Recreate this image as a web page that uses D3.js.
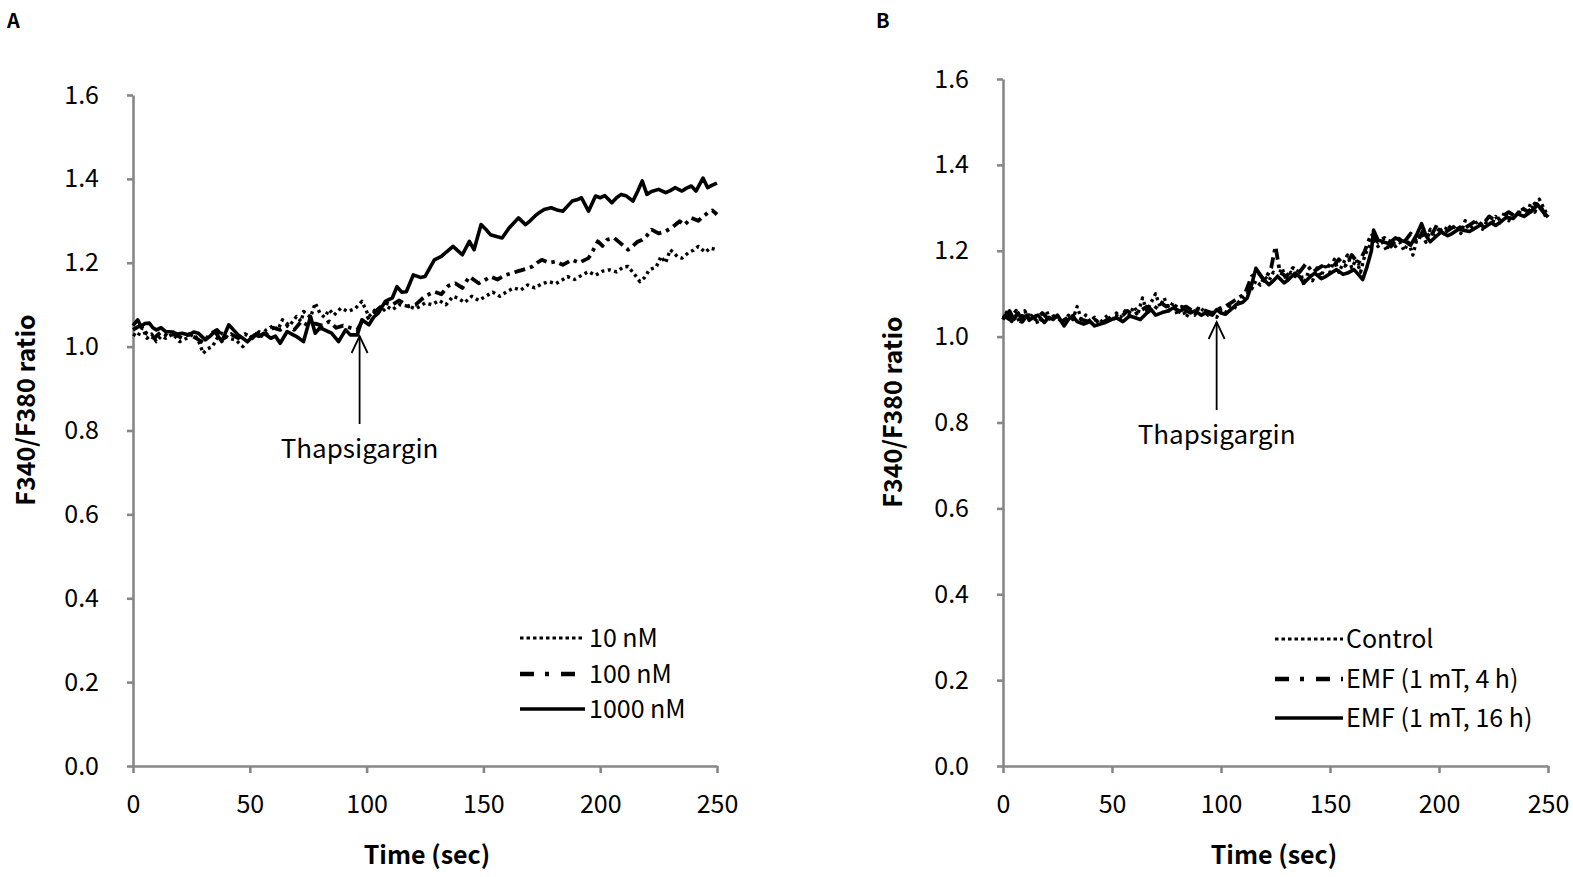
<!DOCTYPE html>
<html><head><meta charset="utf-8">
<script src="https://cdn.jsdelivr.net/npm/d3@7"></script>
<style>
body{margin:0;background:#fff;}
svg text{font-family:"Noto Sans CJK KR","Noto Sans",sans-serif;fill:#000;}
</style></head>
<body><svg id="c" width="1573" height="877"></svg>
<script>
const yTicks=[0,0.2,0.4,0.6,0.8,1.0,1.2,1.4,1.6];
const xTicks=[0,50,100,150,200,250];
const legendA=["10 nM","100 nM","1000 nM"];
const legendB=["Control","EMF (1 mT, 4 h)","EMF (1 mT, 16 h)"];

const a10=[[0,1.03],[2,1.024],[4,1.045],[6,1.02],[8,1.03],[10,1.012],[12,1.025],[14,1.02],[17,1.03],[20,1.012],[23,1.02],[26,1.03],[28,1.015],[30,0.984],[32,0.995],[34,1.0],[36,1.02],[38,1.032],[41,1.02],[44,1.016],[47,1.0],[50,1.02],[52,1.032],[55,1.025],[57,1.04],[60,1.05],[62,1.04],[64,1.064],[67,1.05],[70,1.072],[72,1.06],[73,1.084],[76,1.07],[78,1.104],[80,1.08],[82,1.07],[84,1.088],[86,1.075],[89,1.092],[92,1.084],[95,1.09],[98,1.108],[101,1.072],[104,1.09],[106,1.08],[109,1.095],[111,1.088],[114,1.1],[118,1.096],[121,1.09],[125,1.104],[128,1.1],[131,1.11],[134,1.1],[137,1.12],[139,1.116],[142,1.105],[145,1.12],[148,1.11],[151,1.12],[154,1.13],[157,1.12],[160,1.131],[163,1.14],[166,1.135],[169,1.147],[172,1.14],[175,1.15],[178,1.155],[181,1.15],[184,1.16],[186,1.167],[189,1.16],[192,1.17],[195,1.179],[198,1.17],[201,1.18],[204,1.183],[207,1.178],[210,1.19],[212,1.191],[215,1.17],[217,1.155],[219,1.165],[221,1.183],[224,1.19],[226,1.215],[228,1.2],[230,1.231],[233,1.215],[235,1.211],[238,1.225],[240,1.23],[242,1.239],[245,1.225],[247,1.235],[250,1.231]];
const a100=[[0,1.04],[3,1.05],[6,1.03],[9,1.02],[12,1.035],[15,1.025],[18,1.03],[21,1.02],[24,1.03],[27,1.02],[30,1.01],[33,1.03],[36,1.04],[39,1.02],[42,1.03],[45,1.02],[48,1.03],[51,1.02],[54,1.035],[57,1.03],[60,1.045],[63,1.04],[66,1.05],[69,1.04],[72,1.06],[75,1.05],[78,1.055],[81,1.05],[84,1.06],[87,1.045],[90,1.05],[93,1.045],[96,1.04],[98,1.06],[101,1.07],[104,1.085],[108,1.104],[111,1.1],[114,1.11],[118,1.096],[121,1.1],[125,1.12],[129,1.131],[132,1.125],[135,1.145],[138,1.151],[141,1.14],[144,1.167],[148,1.151],[151,1.16],[153,1.167],[156,1.16],[159,1.17],[162,1.175],[165,1.18],[168,1.185],[171,1.191],[173,1.2],[175,1.207],[178,1.2],[181,1.203],[184,1.195],[188,1.207],[191,1.2],[195,1.211],[197,1.23],[199,1.251],[201,1.24],[203,1.255],[206,1.259],[209,1.245],[212,1.231],[214,1.24],[216,1.25],[218,1.255],[220,1.265],[222,1.279],[225,1.27],[228,1.275],[231,1.285],[234,1.299],[236,1.29],[239,1.307],[242,1.3],[244,1.31],[246,1.319],[248,1.325],[250,1.315]];
const a1000=[[0,1.05],[2,1.064],[3.5,1.048],[5,1.055],[7,1.056],[8.5,1.045],[10,1.04],[12,1.045],[14,1.036],[17,1.035],[19,1.03],[21,1.032],[24,1.028],[26,1.035],[28,1.032],[31,1.016],[33,1.025],[35,1.036],[38,1.012],[41,1.052],[43,1.04],[45,1.028],[47,1.02],[49,1.012],[52,1.028],[54,1.025],[56,1.032],[59,1.02],[61,1.025],[63,1.008],[66,1.036],[68,1.03],[70,1.024],[73,1.012],[76,1.072],[78,1.032],[80,1.045],[82,1.04],[85,1.032],[88,1.012],[91,1.04],[93,1.028],[96,1.028],[98,1.064],[101,1.052],[103,1.07],[105,1.08],[108,1.108],[111,1.116],[113,1.143],[115,1.13],[117,1.131],[120,1.171],[123,1.165],[125,1.167],[129,1.207],[132,1.215],[134,1.225],[137,1.239],[141,1.219],[144,1.251],[146,1.231],[149,1.291],[151,1.28],[153,1.267],[156,1.262],[158,1.259],[161,1.283],[163,1.295],[165,1.307],[168,1.291],[170,1.3],[172,1.311],[174,1.32],[176,1.327],[179,1.331],[182,1.325],[184,1.323],[186,1.335],[188,1.347],[190,1.35],[192,1.355],[195,1.323],[198,1.359],[200,1.355],[202,1.36],[205,1.343],[207,1.355],[209,1.363],[211,1.36],[214,1.347],[216,1.37],[218,1.395],[220,1.363],[222,1.37],[225,1.375],[228,1.367],[230,1.372],[232,1.379],[235,1.371],[237,1.378],[239,1.383],[241,1.371],[244,1.402],[246,1.379],[248,1.385],[250,1.39]];

const bCtrl=[[0,1.04],[2,1.06],[4,1.035],[6,1.05],[8,1.03],[10,1.06],[12,1.04],[14,1.055],[16,1.03],[18,1.045],[20,1.06],[22,1.035],[24,1.05],[26,1.04],[28,1.03],[30,1.05],[32,1.04],[34,1.07],[36,1.04],[38,1.05],[40,1.035],[42,1.045],[44,1.03],[46,1.04],[48,1.05],[50,1.035],[52,1.055],[54,1.045],[56,1.06],[58,1.05],[60,1.07],[62,1.055],[64,1.09],[66,1.06],[68,1.08],[70,1.1],[72,1.07],[74,1.09],[76,1.06],[78,1.08],[80,1.05],[82,1.07],[84,1.045],[86,1.06],[88,1.05],[90,1.07],[92,1.06],[94,1.05],[96,1.055],[98,1.045],[100,1.06],[102,1.055],[104,1.07],[106,1.065],[108,1.08],[110,1.09],[112,1.1],[114,1.11],[116,1.13],[118,1.12],[120,1.14],[122,1.13],[124,1.15],[126,1.14],[128,1.16],[130,1.13],[132,1.15],[134,1.14],[136,1.16],[138,1.12],[140,1.15],[142,1.13],[144,1.16],[146,1.14],[148,1.17],[150,1.15],[152,1.18],[154,1.15],[156,1.17],[158,1.19],[160,1.16],[162,1.18],[164,1.15],[166,1.19],[168,1.21],[170,1.23],[172,1.21],[174,1.22],[176,1.2],[178,1.23],[180,1.21],[182,1.22],[184,1.2],[186,1.22],[188,1.19],[190,1.23],[192,1.24],[194,1.22],[196,1.25],[198,1.23],[200,1.25],[202,1.24],[204,1.26],[206,1.25],[208,1.26],[210,1.24],[212,1.27],[214,1.25],[216,1.26],[218,1.27],[220,1.25],[222,1.27],[224,1.26],[226,1.28],[228,1.26],[230,1.29],[232,1.27],[234,1.29],[236,1.28],[238,1.3],[240,1.28],[242,1.31],[244,1.29],[246,1.32],[248,1.3],[250,1.28]];
const b4h=[[0,1.05],[3,1.04],[6,1.06],[9,1.045],[12,1.05],[15,1.04],[18,1.055],[21,1.04],[24,1.05],[27,1.035],[30,1.045],[33,1.05],[36,1.04],[39,1.035],[42,1.04],[45,1.03],[48,1.04],[51,1.05],[54,1.045],[57,1.06],[60,1.05],[63,1.06],[66,1.07],[69,1.06],[72,1.08],[75,1.07],[78,1.075],[81,1.065],[84,1.07],[87,1.06],[90,1.065],[93,1.06],[96,1.055],[99,1.065],[102,1.07],[105,1.08],[108,1.09],[111,1.1],[114,1.14],[117,1.15],[120,1.13],[123,1.16],[125,1.21],[127,1.15],[130,1.14],[133,1.16],[136,1.15],[139,1.17],[142,1.15],[145,1.16],[148,1.17],[151,1.16],[154,1.18],[157,1.165],[160,1.19],[163,1.17],[166,1.2],[169,1.24],[172,1.22],[175,1.23],[178,1.21],[181,1.23],[184,1.22],[187,1.24],[190,1.22],[193,1.25],[196,1.23],[199,1.26],[202,1.24],[205,1.25],[208,1.26],[211,1.25],[214,1.26],[217,1.27],[220,1.26],[223,1.28],[226,1.27],[229,1.28],[232,1.29],[235,1.28],[238,1.3],[241,1.29],[244,1.31],[247,1.3],[250,1.27]];
const b16h=[[0,1.04],[1,1.048],[3,1.06],[5,1.04],[7,1.055],[9,1.035],[11,1.05],[12,1.038],[14,1.045],[16,1.05],[19,1.033],[21,1.045],[23,1.04],[25,1.05],[28,1.025],[30,1.04],[32,1.048],[34,1.035],[37,1.029],[40,1.035],[42,1.025],[45,1.03],[47,1.033],[50,1.04],[52,1.044],[55,1.035],[58,1.048],[60,1.045],[63,1.04],[66,1.055],[68,1.063],[70,1.05],[73,1.056],[76,1.06],[78,1.067],[81,1.06],[83,1.063],[86,1.055],[88,1.06],[91,1.05],[93,1.056],[96,1.05],[98,1.063],[100,1.055],[102,1.052],[105,1.065],[107,1.075],[110,1.08],[112,1.09],[114,1.12],[116,1.159],[119,1.136],[122,1.121],[124,1.13],[126,1.14],[129,1.125],[131,1.133],[134,1.148],[136,1.14],[138,1.125],[141,1.14],[143,1.148],[146,1.135],[148,1.14],[151,1.15],[153,1.156],[156,1.145],[158,1.148],[161,1.156],[163,1.145],[165,1.133],[167,1.163],[169,1.2],[170,1.248],[172,1.225],[175,1.22],[177,1.217],[180,1.23],[182,1.225],[185,1.22],[187,1.213],[190,1.24],[192,1.263],[194,1.235],[196,1.221],[199,1.235],[201,1.244],[204,1.235],[206,1.24],[209,1.25],[211,1.248],[214,1.245],[216,1.251],[219,1.26],[221,1.255],[224,1.265],[226,1.259],[229,1.27],[231,1.278],[234,1.275],[236,1.286],[239,1.28],[242,1.29],[244,1.3],[245,1.309],[247,1.295],[248,1.29],[250,1.278]];

const styles=[
  {w:3.4,dash:"3,3.5",legDash:"3.5,3"},
  {w:3.8,dash:"11,5,3.5,5",legDash:"14,11,4,12"},
  {w:3.6,dash:null,legDash:null}
];

const svg=d3.select("#c");
svg.append("rect").attr("width",1573).attr("height",877).attr("fill","#fff");

function panel(o){
  const x=d3.scaleLinear().domain([0,250]).range([o.x0,o.x1]);
  const y=d3.scaleLinear().domain([0,1.6]).range([o.y0,o.y1]);
  const g=svg.append("g");
  const ay=g.append("g").attr("transform",`translate(${o.x0},0)`)
    .call(d3.axisLeft(y).tickValues(yTicks).tickFormat(d3.format(".1f")).tickSize(6).tickPadding(28).tickSizeOuter(0));
  const ax=g.append("g").attr("transform",`translate(0,${o.y0})`)
    .call(d3.axisBottom(x).tickValues(xTicks).tickFormat(d3.format("d")).tickSize(7).tickPadding(22).tickSizeOuter(0));
  [ay,ax].forEach(a=>{
    a.select(".domain").attr("stroke","#878787").attr("stroke-width",2.6);
    a.selectAll(".tick line").attr("stroke","#878787").attr("stroke-width",2.6);
    a.selectAll(".tick text").style("font-size","25px").attr("fill","#000");
  });
  ax.selectAll(".tick text").attr("dy","0.71em");
  const line=d3.line().x(d=>x(d[0])).y(d=>y(d[1]));
  o.series.forEach((s,i)=>{
    const st=styles[i];
    g.append("path").datum(s).attr("d",line).attr("fill","none").attr("stroke","#000")
      .attr("stroke-width",st.w).attr("stroke-linejoin","round")
      .attr("stroke-dasharray",st.dash);
  });
  const axp=x(o.arrowT);
  g.append("line").attr("x1",axp).attr("x2",axp).attr("y1",o.arrowY0).attr("y2",o.arrowY1).attr("stroke","#000").attr("stroke-width",1.8);
  g.append("path").attr("d",`M${axp-8},${o.arrowY1+17}L${axp},${o.arrowY1}L${axp+8},${o.arrowY1+17}`).attr("fill","none").attr("stroke","#000").attr("stroke-width",1.8);
  g.append("text").attr("x",axp).attr("y",o.thY).attr("text-anchor","middle").style("font-size","26px").text("Thapsigargin");
  o.legend.forEach((lab,i)=>{
    const st=styles[i];
    const ly=o.legY[i];
    g.append("line").attr("x1",o.legX0).attr("x2",o.legX1).attr("y1",ly).attr("y2",ly).attr("stroke","#000")
      .attr("stroke-width",i==2?3.4:(i==1?4.5:3.2)).attr("stroke-dasharray",st.legDash);
    g.append("text").attr("x",o.legTX).attr("y",ly).attr("dy","0.35em").style("font-size","25px").text(lab);
  });
  g.append("text").attr("transform",`translate(${o.yTitleX},${o.yTitleY}) rotate(-90)`)
    .attr("text-anchor","middle").style("font-size","25px").style("font-weight","bold").text("F340/F380 ratio");
  g.append("text").attr("x",o.xTitleX).attr("y",864).attr("text-anchor","middle")
    .style("font-size","25px").style("font-weight","bold").text("Time (sec)");
  g.append("text").attr("x",o.letterX).attr("y",28).style("font-size","20px").style("font-weight","bold").text(o.letter);
}

panel({x0:133,x1:717,y0:766,y1:95,series:[a10,a100,a1000],legend:legendA,
  legX0:520,legX1:585,legTX:589,legY:[638,674,709],arrowT:97,arrowY0:424,arrowY1:336,thY:458,
  yTitleX:35,yTitleY:410,xTitleX:427,letter:"A",letterX:7});
panel({x0:1003,x1:1548,y0:766,y1:79,series:[bCtrl,b4h,b16h],legend:legendB,
  legX0:1275,legX1:1343,legTX:1346,legY:[639,679,718],arrowT:98,arrowY0:410,arrowY1:322,thY:444,
  yTitleX:902,yTitleY:412,xTitleX:1274,letter:"B",letterX:876});
</script></body></html>
